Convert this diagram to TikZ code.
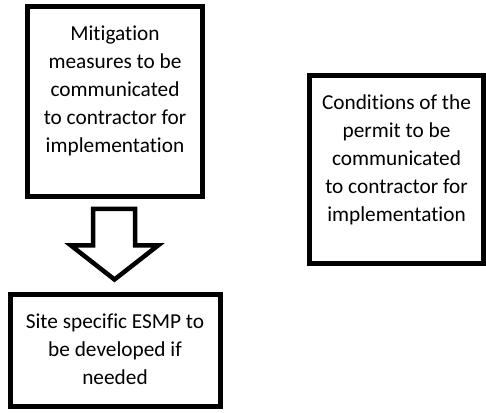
\documentclass[tikz,border=0pt]{standalone}
\usepackage{fontspec}
\setmainfont{Carlito}[Ligatures=NoCommon]
\begin{document}
\begin{tikzpicture}[x=1pt,y=1pt,
  box/.style={draw=black, line width=5pt, fill=white, rectangle, inner sep=0pt},
  boxtext/.style={anchor=north, align=center, inner sep=0pt,
    font=\fontsize{21.3}{28}\selectfont},
  blockarrow/.style={draw=black, line width=4.5pt, fill=white, line join=miter}]
\useasboundingbox (0,0) rectangle (486,412);

% boxes (stroke centre lines)
\node[box, minimum width=175pt, minimum height=189.5pt] (mitig) at (115,310.25) {};
\node[box, minimum width=174pt, minimum height=188.5pt] (permit) at (396.5,242.25) {};
\node[box, minimum width=210pt, minimum height=111.5pt] (esmp) at (115,61.75) {};

% texts, top aligned inside their boxes
\node[boxtext] (mitigtxt) at ([yshift=-16.5pt]mitig.north)
  {\strut Mitigation\\measures to be\\communicated\\to contractor for\\implementation};
\node[boxtext] (permittxt) at ([yshift=-16.5pt]permit.north)
  {\strut Conditions of the\\permit to be\\communicated\\to contractor for\\implementation};
\node[boxtext] (esmptxt) at ([yshift=-16.5pt]esmp.north)
  {\strut Site specific ESMP to\\be developed if\\needed};

% hollow block arrow from the first box down to the ESMP box
\draw[blockarrow] (93,203) -- (135,203) -- (135,166.5) -- (158,166.5)
  -- (114.5,132.5) -- (71,166.5) -- (93,166.5) -- cycle;
\end{tikzpicture}
\end{document}
